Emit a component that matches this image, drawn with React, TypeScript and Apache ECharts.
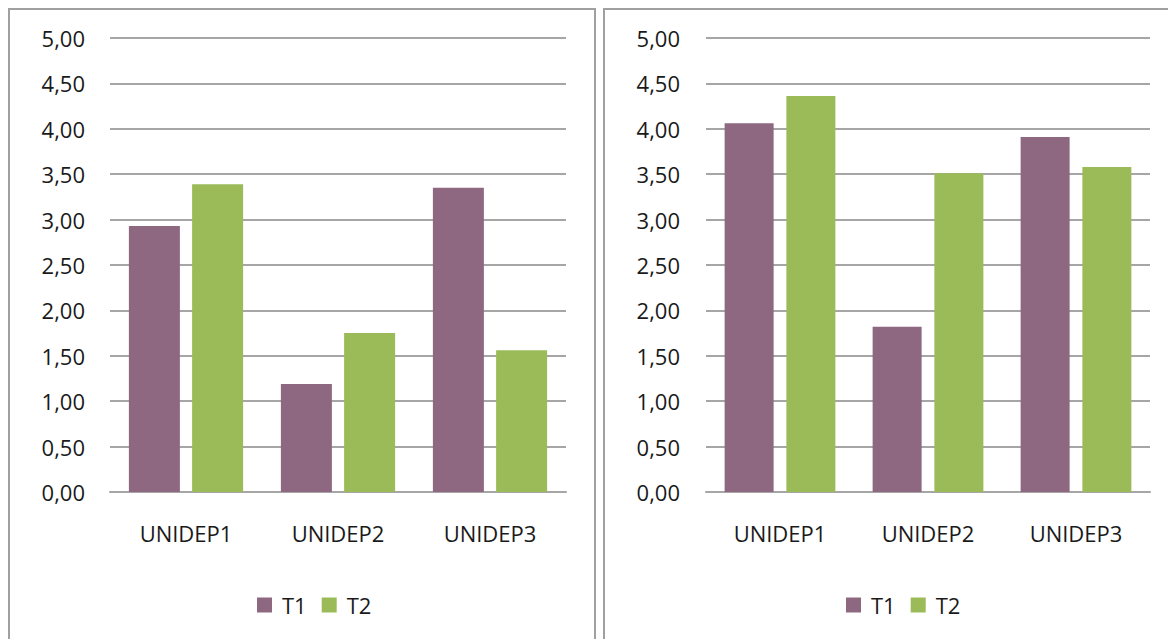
import React, { useEffect, useRef } from "react";
import * as echarts from "echarts";

const categories = ["UNIDEP1", "UNIDEP2", "UNIDEP3"];
const seriesNames = ["T1", "T2"];
const leftT1 = [2.93, 1.19, 3.35];
const leftT2 = [3.39, 1.75, 1.56];
const rightT1 = [4.06, 1.82, 3.91];
const rightT2 = [4.36, 3.51, 3.58];

const PURPLE = "#8d6880";
const GREEN = "#9bbb59";
const FONT = "Open Sans";

export default function App() {
  const ref = useRef<HTMLDivElement>(null);
  useEffect(() => {
    const chart = echarts.init(ref.current!, null, { renderer: "svg" });
    const yAxisBase = (gridIndex: number, margin: number) => ({
      type: "value",
      gridIndex,
      min: 0,
      max: 5,
      interval: 0.5,
      axisLine: { show: false },
      axisTick: { show: false },
      axisLabel: {
        margin,
        color: "#1a1a1a",
        fontFamily: FONT,
        fontSize: 22,
        formatter: (v: number) => v.toFixed(2).replace(".", ","),
      },
      splitLine: { lineStyle: { color: "#a6a6a6", width: 2 } },
    });
    const xAxisBase = (gridIndex: number) => ({
      type: "category",
      gridIndex,
      data: categories,
      axisLine: { lineStyle: { color: "#a6a6a6", width: 2 } },
      axisTick: { show: false },
      axisLabel: {
        margin: 30,
        color: "#1a1a1a",
        fontFamily: FONT,
        fontSize: 22,
      },
    });
    const legendBase = (left: number) => ({
      left,
      top: 589,
      itemWidth: 15,
      itemHeight: 15,
      itemGap: 15,
      icon: "rect",
      data: seriesNames,
      textStyle: {
        color: "#1a1a1a",
        fontFamily: FONT,
        fontSize: 22,
        padding: [0, 0, 0, 5],
      },
    });
    chart.setOption({
      animation: false,
      graphic: [
        {
          type: "rect",
          shape: { x: 9, y: 9, width: 586, height: 700 },
          style: { fill: "none", stroke: "#a0a0a0", lineWidth: 2 },
        },
        {
          type: "rect",
          shape: { x: 604, y: 9, width: 700, height: 700 },
          style: { fill: "none", stroke: "#a0a0a0", lineWidth: 2 },
        },
      ],
      grid: [
        { left: 110, right: 602, top: 38, bottom: 147 },
        { left: 706, right: 18, top: 38, bottom: 147 },
      ],
      legend: [
        { ...legendBase(252), seriesIndex: [0, 1] },
        { ...legendBase(841) },
      ],
      xAxis: [xAxisBase(0), xAxisBase(1)],
      yAxis: [yAxisBase(0, 25), yAxisBase(1, 26)],
      series: [
        {
          name: "T1",
          type: "bar",
          xAxisIndex: 0,
          yAxisIndex: 0,
          data: leftT1,
          barWidth: 51,
          barGap: "24%",
          itemStyle: { color: PURPLE },
        },
        {
          name: "T2",
          type: "bar",
          xAxisIndex: 0,
          yAxisIndex: 0,
          data: leftT2,
          barWidth: 51,
          barGap: "24%",
          itemStyle: { color: GREEN },
        },
        {
          name: "T1",
          type: "bar",
          xAxisIndex: 1,
          yAxisIndex: 1,
          data: rightT1,
          barWidth: 49,
          barGap: "26%",
          itemStyle: { color: PURPLE },
        },
        {
          name: "T2",
          type: "bar",
          xAxisIndex: 1,
          yAxisIndex: 1,
          data: rightT2,
          barWidth: 49,
          barGap: "26%",
          itemStyle: { color: GREEN },
        },
      ],
    });
    return () => chart.dispose();
  }, []);
  return (
    <div
      ref={ref}
      style={{
        position: "fixed",
        left: 0,
        top: 0,
        width: 1168,
        height: 639,
        background: "#fff",
      }}
    />
  );
}
